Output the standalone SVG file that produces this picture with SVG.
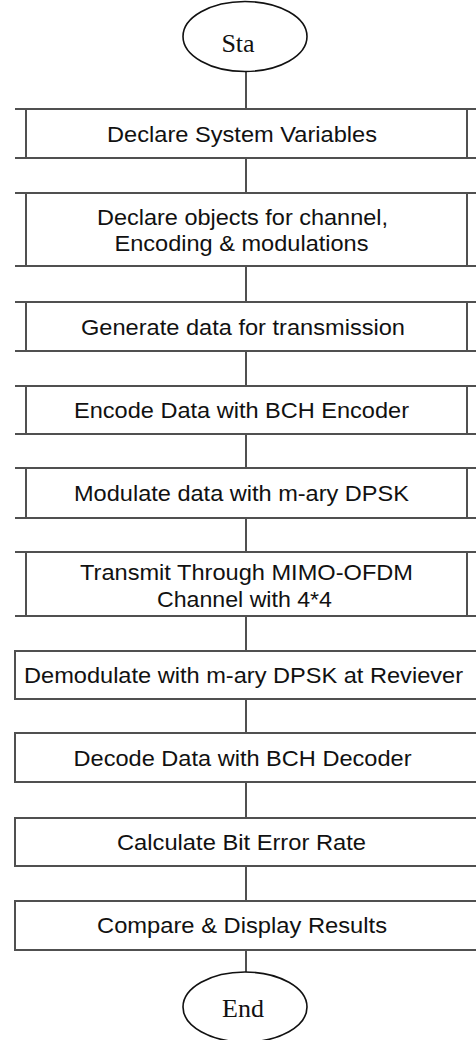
<svg xmlns="http://www.w3.org/2000/svg" width="476" height="1040" viewBox="0 0 476 1040">
<style>
.bg{fill:#ffffff}
.term{fill:#ffffff;stroke:#111;stroke-width:1.6}
.tt{font-family:"Liberation Serif","Times New Roman",serif;font-size:26px;fill:#111;text-anchor:middle}
.box{fill:none;stroke:#505050;stroke-width:2}
.lbl{font-family:"Liberation Sans",Arial,sans-serif;font-size:22px;fill:#111;text-anchor:middle}
.con{stroke:#505050;stroke-width:2;fill:none}
</style>
<rect class="bg" x="0" y="0" width="476" height="1040"/>
<g id="connectors">
<path class="con" d="M246 71.5V109M246 158V193M246 266V302M246 351V386M246 434V468M246 518V552M246 616V651M246 699V733M246 782V818M246 866V901M246 950V972"/>
</g>
<g id="start">
<ellipse class="term" cx="245" cy="36.5" rx="62" ry="35"/>
<text class="tt" x="238" y="52">Sta</text>
</g>
<g id="n1">
<path class="box" d="M15 109H476M15 158H476M26 109V158M467 109V158"/>
<text class="lbl" x="242" y="141.5" textLength="270" lengthAdjust="spacingAndGlyphs">Declare System Variables</text>
</g>
<g id="n2">
<path class="box" d="M15 193H476M15 266H476M26 193V266M467 193V266"/>
<text class="lbl" x="242.5" y="225" textLength="291" lengthAdjust="spacingAndGlyphs">Declare objects for channel,</text>
<text class="lbl" x="241.5" y="251" textLength="254" lengthAdjust="spacingAndGlyphs">Encoding &amp; modulations</text>
</g>
<g id="n3">
<path class="box" d="M15 302H476M15 351H476M26 302V351M467 302V351"/>
<text class="lbl" x="243" y="334.5" textLength="324" lengthAdjust="spacingAndGlyphs">Generate data for transmission</text>
</g>
<g id="n4">
<path class="box" d="M15 386H476M15 434H476M26 386V434M467 386V434"/>
<text class="lbl" x="241.5" y="418" textLength="335" lengthAdjust="spacingAndGlyphs">Encode Data with BCH Encoder</text>
</g>
<g id="n5">
<path class="box" d="M15 468H476M15 518H476M26 468V518M467 468V518"/>
<text class="lbl" x="241.5" y="501" textLength="335" lengthAdjust="spacingAndGlyphs">Modulate data with m-ary DPSK</text>
</g>
<g id="n6">
<path class="box" d="M15 552H476M15 616H476M26 552V616M467 552V616"/>
<text class="lbl" x="246.5" y="580" textLength="333" lengthAdjust="spacingAndGlyphs">Transmit Through MIMO-OFDM</text>
<text class="lbl" x="244.5" y="607" textLength="175" lengthAdjust="spacingAndGlyphs">Channel with 4*4</text>
</g>
<g id="n7">
<path class="box" d="M476 651H15V699H476"/>
<text class="lbl" x="243.5" y="683" textLength="439" lengthAdjust="spacingAndGlyphs">Demodulate with m-ary DPSK at Reviever</text>
</g>
<g id="n8">
<path class="box" d="M476 733H15V782H476"/>
<text class="lbl" x="242.5" y="766" textLength="338" lengthAdjust="spacingAndGlyphs">Decode Data with BCH Decoder</text>
</g>
<g id="n9">
<path class="box" d="M476 818H15V866H476"/>
<text class="lbl" x="241.5" y="850" textLength="249" lengthAdjust="spacingAndGlyphs">Calculate Bit Error Rate</text>
</g>
<g id="n10">
<path class="box" d="M476 901H15V950H476"/>
<text class="lbl" x="242" y="933" textLength="290" lengthAdjust="spacingAndGlyphs">Compare &amp; Display Results</text>
</g>
<g id="end">
<ellipse class="term" cx="245" cy="1007" rx="62" ry="35"/>
<text class="tt" x="243" y="1017">End</text>
</g>
</svg>
